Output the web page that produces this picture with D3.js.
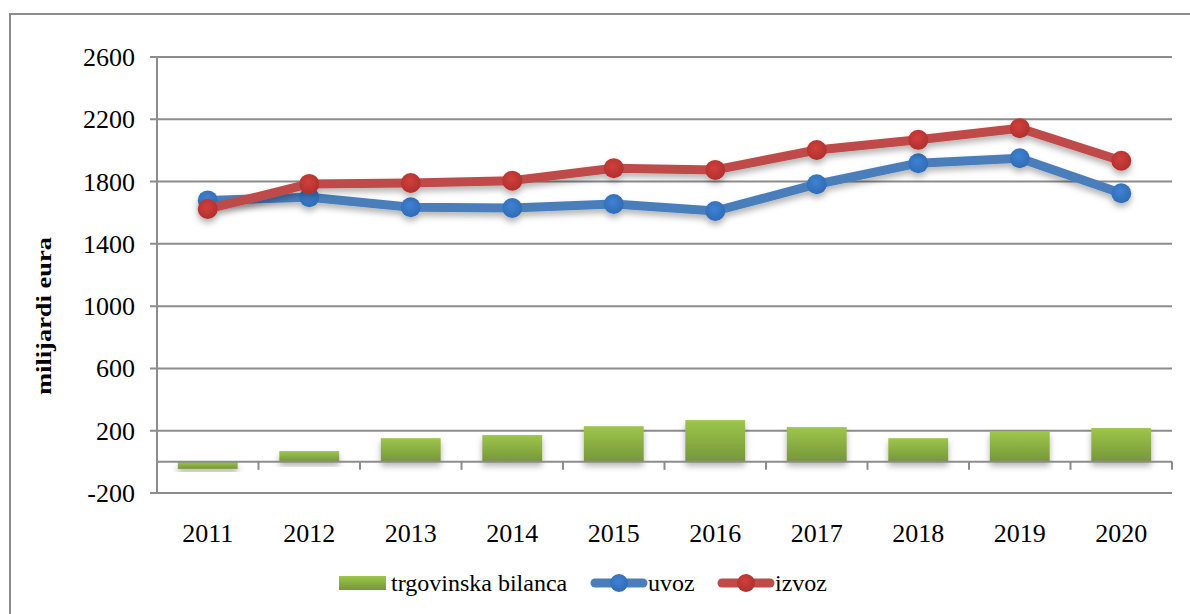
<!DOCTYPE html>
<html>
<head>
<meta charset="utf-8">
<script src="https://cdn.jsdelivr.net/npm/d3@7"></script>
<style>
  body { margin: 0; background: #fff; }
  text { font-family: "Liberation Serif", "Times New Roman", serif; fill: #000; }
</style>
</head>
<body>
<svg width="1190" height="614"></svg>
<script>
var years = ["2011","2012","2013","2014","2015","2016","2017","2018","2019","2020"];
var bilanca = [-45, 69, 152, 172, 229, 268, 223, 152, 193, 217];
var uvoz = [1679, 1699, 1635, 1630, 1656, 1611, 1783, 1918, 1950, 1725];
var izvoz = [1624, 1785, 1791, 1806, 1886, 1875, 2003, 2068, 2143, 1934];
var yTicks = [-200, 200, 600, 1000, 1400, 1800, 2200, 2600];

var svg = d3.select("svg"),
  margins = {top: 57, right: 18, bottom: 121, left: 157},
  width = 1190 - margins.left - margins.right,
  height = 614 - margins.top - margins.bottom;

var defs = svg.append("defs");

var barGrad = defs.append("linearGradient")
  .attr("id", "barGrad").attr("x1", 0).attr("y1", 0).attr("x2", 0).attr("y2", 1);
barGrad.append("stop").attr("offset", "0%").attr("stop-color", "#9dc64a");
barGrad.append("stop").attr("offset", "100%").attr("stop-color", "#76963a");

var blueGrad = defs.append("radialGradient").attr("id", "blueGrad")
  .attr("cx", "45%").attr("cy", "40%").attr("r", "60%");
blueGrad.append("stop").attr("offset", "0%").attr("stop-color", "#3f82d2");
blueGrad.append("stop").attr("offset", "100%").attr("stop-color", "#2f6bb5");

var redGrad = defs.append("radialGradient").attr("id", "redGrad")
  .attr("cx", "45%").attr("cy", "40%").attr("r", "60%");
redGrad.append("stop").attr("offset", "0%").attr("stop-color", "#d0403c");
redGrad.append("stop").attr("offset", "100%").attr("stop-color", "#b0302d");

var shadow = defs.append("filter").attr("id", "shadow")
  .attr("x", "-20%").attr("y", "-20%").attr("width", "140%").attr("height", "160%");
shadow.append("feDropShadow").attr("dx", 0).attr("dy", 4).attr("stdDeviation", 3)
  .attr("flood-color", "#000").attr("flood-opacity", 0.3);

// outer frame
svg.append("rect")
  .attr("x", 10).attr("y", 14).attr("width", 1200).attr("height", 640)
  .attr("fill", "none").attr("stroke", "#8c8c8c").attr("stroke-width", 2);

var x = d3.scaleBand()
  .domain(years)
  .range([margins.left, margins.left + width])
  .paddingInner(0.41)
  .paddingOuter(0.205);

var y = d3.scaleLinear()
  .domain([-200, 2600])
  .range([margins.top + height, margins.top]);

var g = svg.append("g");

// gridlines
g.selectAll(".grid")
  .data(yTicks)
  .enter().append("line")
  .attr("x1", margins.left - 7)
  .attr("x2", margins.left + width)
  .attr("y1", function(d) { return y(d); })
  .attr("y2", function(d) { return y(d); })
  .attr("stroke", "#8c8c8c")
  .attr("stroke-width", 2);

// y axis line
g.append("line")
  .attr("x1", margins.left).attr("x2", margins.left)
  .attr("y1", y(2600)).attr("y2", y(-200))
  .attr("stroke", "#8c8c8c").attr("stroke-width", 2);

// y tick labels
g.selectAll(".ylab")
  .data(yTicks)
  .enter().append("text")
  .attr("x", 135)
  .attr("y", function(d) { return y(d) + 9; })
  .attr("text-anchor", "end")
  .style("font-size", "26px")
  .text(function(d) { return d; });

// bars
g.selectAll(".bar")
  .data(bilanca)
  .enter().append("rect")
  .attr("x", function(d, i) { return x(years[i]); })
  .attr("width", x.bandwidth())
  .attr("y", function(d) { return y(Math.max(0, d)); })
  .attr("height", function(d) { return Math.abs(y(d) - y(0)); })
  .attr("fill", "url(#barGrad)")
  .attr("filter", "url(#shadow)");

// zero axis with category ticks
g.append("line")
  .attr("x1", margins.left).attr("x2", margins.left + width)
  .attr("y1", y(0)).attr("y2", y(0))
  .attr("stroke", "#8c8c8c").attr("stroke-width", 2);

var tickPos = d3.range(years.length + 1).map(function(i) { return margins.left + i * width / years.length; });
g.selectAll(".xtick")
  .data(tickPos)
  .enter().append("line")
  .attr("x1", function(d) { return d; })
  .attr("x2", function(d) { return d; })
  .attr("y1", y(0)).attr("y2", y(0) + 8)
  .attr("stroke", "#8c8c8c").attr("stroke-width", 2);

// x labels
g.selectAll(".xlab")
  .data(years)
  .enter().append("text")
  .attr("x", function(d) { return x(d) + x.bandwidth() / 2; })
  .attr("y", 542)
  .attr("text-anchor", "middle")
  .style("font-size", "26px")
  .text(function(d) { return d; });

// lines
function drawSeries(values, lineColor, grad) {
  var line = d3.line()
    .x(function(d, i) { return x(years[i]) + x.bandwidth() / 2; })
    .y(function(d) { return y(d); });
  var s = g.append("g").attr("filter", "url(#shadow)");
  s.append("path")
    .datum(values)
    .attr("d", line)
    .attr("fill", "none")
    .attr("stroke", lineColor)
    .attr("stroke-width", 9)
    .attr("stroke-linejoin", "round");
  s.selectAll("circle")
    .data(values)
    .enter().append("circle")
    .attr("cx", function(d, i) { return x(years[i]) + x.bandwidth() / 2; })
    .attr("cy", function(d) { return y(d); })
    .attr("r", 10)
    .attr("fill", grad);
}
drawSeries(uvoz, "#4a7ebb", "url(#blueGrad)");
drawSeries(izvoz, "#be4b48", "url(#redGrad)");

// y axis title
svg.append("text")
  .attr("transform", "translate(51,316) rotate(-90)")
  .attr("text-anchor", "middle")
  .attr("textLength", 158)
  .attr("lengthAdjust", "spacingAndGlyphs")
  .style("font-size", "20px")
  .style("font-weight", "bold")
  .text("milijardi eura");

// legend
var legend = svg.append("g");
legend.append("rect")
  .attr("x", 339).attr("y", 576).attr("width", 47).attr("height", 14)
  .attr("fill", "url(#barGrad)");
legend.append("text")
  .attr("x", 391).attr("y", 591).style("font-size", "24px")
  .text("trgovinska bilanca");

legend.append("line")
  .attr("x1", 595).attr("x2", 643).attr("y1", 583).attr("y2", 583)
  .attr("stroke", "#4a7ebb").attr("stroke-width", 9).attr("stroke-linecap", "round");
legend.append("circle")
  .attr("cx", 619).attr("cy", 583).attr("r", 9).attr("fill", "url(#blueGrad)");
legend.append("text")
  .attr("x", 648).attr("y", 591).style("font-size", "24px")
  .text("uvoz");

legend.append("line")
  .attr("x1", 722).attr("x2", 770).attr("y1", 583).attr("y2", 583)
  .attr("stroke", "#be4b48").attr("stroke-width", 9).attr("stroke-linecap", "round");
legend.append("circle")
  .attr("cx", 746).attr("cy", 583).attr("r", 9).attr("fill", "url(#redGrad)");
legend.append("text")
  .attr("x", 775).attr("y", 591).style("font-size", "24px")
  .text("izvoz");
</script>
</body>
</html>
